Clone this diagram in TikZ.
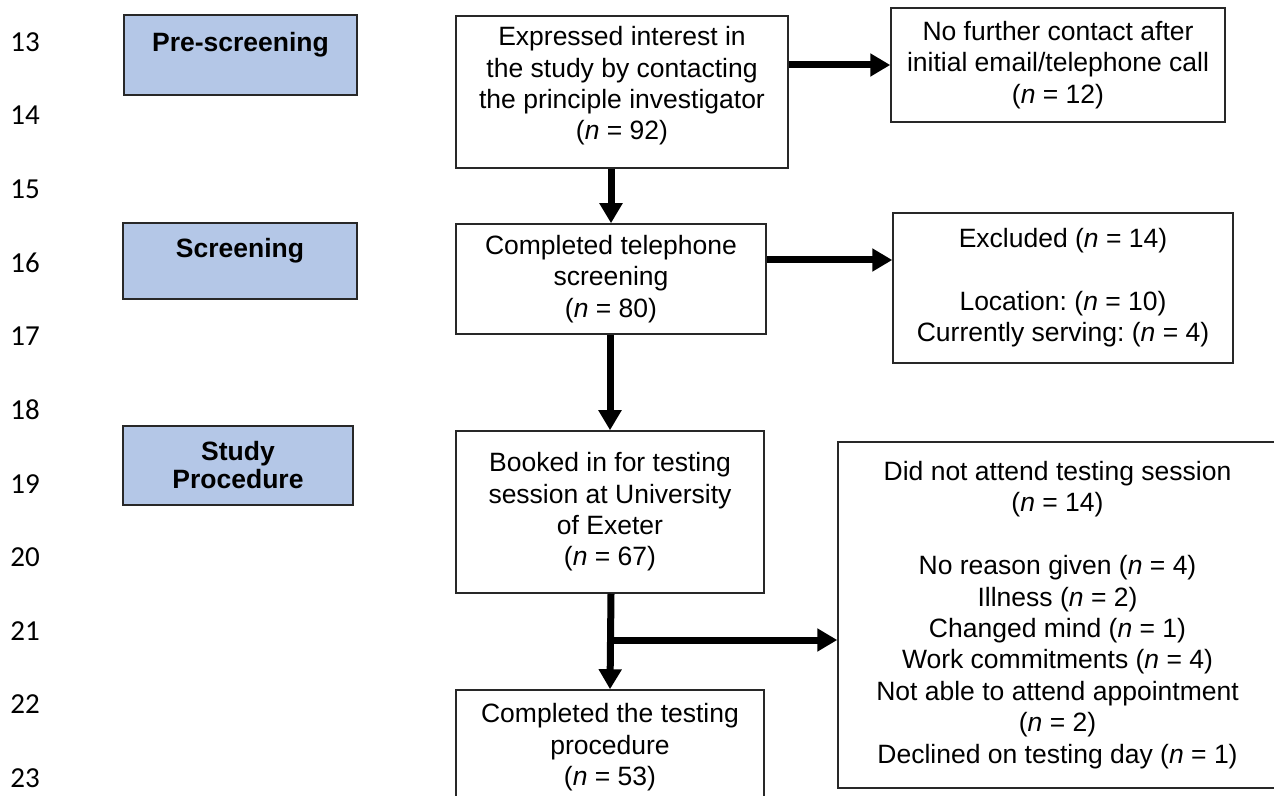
\documentclass[tikz,border=0pt]{standalone}
\usepackage{fontspec}
\setmainfont{Liberation Sans}
\newfontfamily\linefont{Carlito}
\usepackage{tikz}
\usetikzlibrary{arrows.meta}
\definecolor{stage_blue}{RGB}{180,199,231}
\definecolor{edge_gray}{RGB}{40,40,40}
\frenchspacing

\begin{document}
\begin{tikzpicture}[>={Triangle[length=10pt,width=11pt]},x=0.5pt,y=-0.5pt]
    \tikzstyle{box}=[draw=edge_gray, line width=0.75pt, rectangle, align=center, fill=none, text=black, inner sep=0pt, font=\fontsize{13.25}{15.7}\selectfont]
    \tikzstyle{stage}=[style=box, fill=stage_blue, font=\bfseries\fontsize{13.25}{14}\selectfont]
    \tikzstyle{num}=[text=black, font=\linefont\fontsize{14.5}{16}\selectfont]
    \tikzstyle{flow}=[->, line width=3.5pt, black]
    \useasboundingbox (0,0) rectangle (1274,796);

    % line numbers of the manuscript
    \foreach \n [count=\i from 0] in {13,...,23}
      \node[num] (ln\n) at (25,42+73.6*\i) {\n};

    % stages
    \node[stage, minimum width=116.5pt, minimum height=40pt] (pre)  at (240.5,55)  {Pre-screening\\[-5pt]\strut};
    \node[stage, minimum width=117pt,   minimum height=38pt] (scr)  at (240,261)   {Screening\\[-5pt]\strut};
    \node[stage, minimum width=115pt,   minimum height=39.5pt] (proc) at (238,465.5) {Study\\Procedure};

    % participant flow
    \node[box, minimum width=166pt, minimum height=76pt] (a) at (622,92)  {Expressed interest in\\the study by contacting\\the principle investigator\\(\textit{n} = 92)\\[-7pt]};
    \node[box, minimum width=167pt, minimum height=57pt] (b) at (1058,65) {No further contact after\\initial email/telephone call\\(\textit{n} = 12)};
    \node[box, minimum width=155pt, minimum height=55pt] (c) at (611,279) {Completed telephone\\screening\\(\textit{n} = 80)};
    \node[box, minimum width=170pt, minimum height=75pt] (d) at (1063,288) {Excluded (\textit{n} = 14)\\[15.7pt]Location: (\textit{n} = 10)\\Currently serving: (\textit{n} = 4)};
    \node[box, minimum width=154pt, minimum height=81pt] (e) at (610,512) {Booked in for testing\\session at University\\of Exeter\\(\textit{n} = 67)};
    \node[box, minimum width=154pt, minimum height=57.5pt] (f) at (610,747.5) {Completed the testing\\procedure\\(\textit{n} = 53)};
    \node[box, minimum width=219.5pt, minimum height=173pt] (g) at (1057.5,615) {Did not attend testing session\\(\textit{n} = 14)\\[15.7pt]No reason given (\textit{n} = 4)\\Illness (\textit{n} = 2)\\Changed mind (\textit{n} = 1)\\Work commitments (\textit{n} = 4)\\Not able to attend appointment\\(\textit{n} = 2)\\Declined on testing day (\textit{n} = 1)};

    \coordinate (split) at (611,640);
    \path
     (a.east |- b.west) edge[flow] (b.west)
     (a.south -| c.north) edge[flow] (c.north)
     ([yshift=9.5pt]c.east) edge[flow] ([yshift=9.5pt]c.east -| d.west)
     (c.south -| e.north) edge[flow] (e.north)
     (e.south -| split) edge[flow] (f.north)
     (split) edge[flow] (split -| g.west)
     ;
\end{tikzpicture}
\end{document}
